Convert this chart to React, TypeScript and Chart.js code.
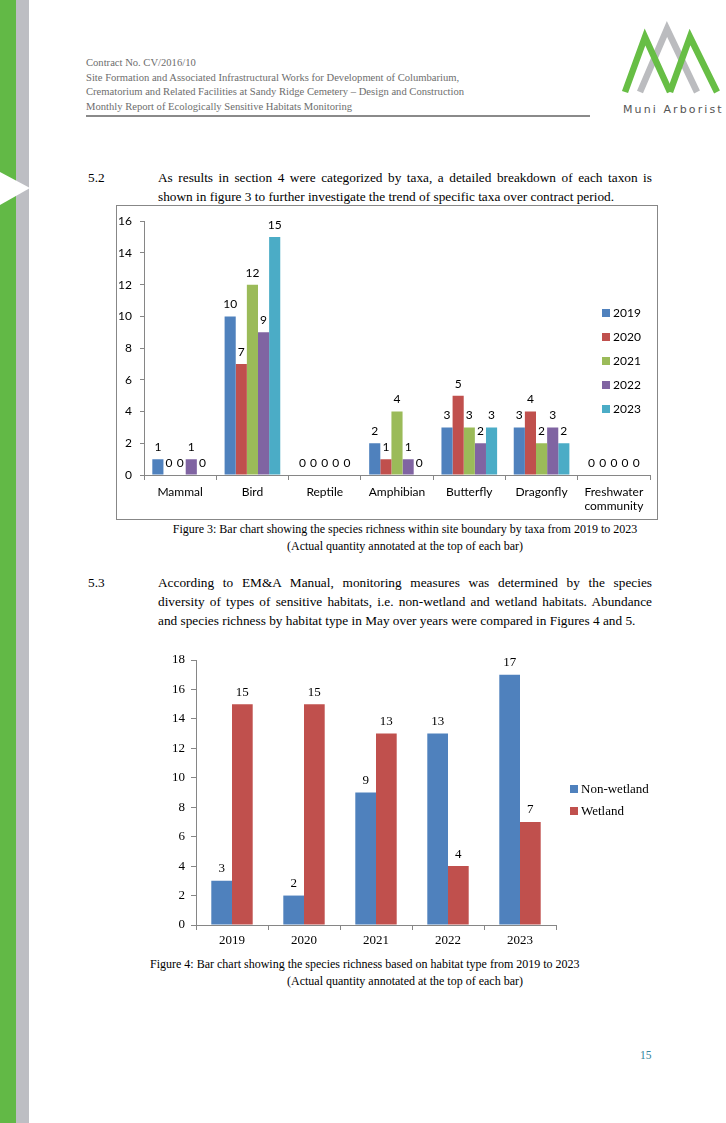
import React, { useEffect, useRef } from 'react';
import { Chart, registerables } from 'chart.js';

Chart.register(...registerables);

// ---------- Figure 3 data ----------
const taxaLabels: (string | string[])[] = ['Mammal', 'Bird', 'Reptile', 'Amphibian', 'Butterfly', 'Dragonfly', ['Freshwater', 'community']];
const yearLabels = ['2019', '2020', '2021', '2022', '2023'];
const yearColors = ['#4F81BD', '#C0504D', '#9BBB59', '#8064A2', '#4BACC6'];
const taxa2019 = [1, 10, 0, 2, 3, 3, 0];
const taxa2020 = [0, 7, 0, 1, 5, 4, 0];
const taxa2021 = [0, 12, 0, 4, 3, 2, 0];
const taxa2022 = [1, 9, 0, 1, 2, 3, 0];
const taxa2023 = [0, 15, 0, 0, 3, 2, 0];
const taxaYMax = 16;
const taxaYStep = 2;

// ---------- Figure 4 data ----------
const habitatYears = ['2019', '2020', '2021', '2022', '2023'];
const habitatLabels = ['Non-wetland', 'Wetland'];
const habitatColors = ['#4F81BD', '#C0504D'];
const nonWetland = [3, 2, 9, 13, 17];
const wetland = [15, 15, 13, 4, 7];
const habitatYMax = 18;
const habitatYStep = 2;

const AXIS = '#868686';

function valueLabelPlugin(font: string, offset: number) {
  return {
    id: 'valueLabels',
    afterDatasetsDraw(chart: any) {
      const ctx = chart.ctx;
      ctx.save();
      ctx.font = font;
      ctx.fillStyle = '#000';
      ctx.textAlign = 'center';
      ctx.textBaseline = 'middle';
      chart.data.datasets.forEach((ds: any, i: number) => {
        const meta = chart.getDatasetMeta(i);
        meta.data.forEach((el: any, j: number) => {
          ctx.fillText(String(ds.data[j]), el.x, el.y - offset);
        });
      });
      ctx.restore();
    },
  };
}

function sideLegendPlugin(x: number, y0: number, gap: number, box: number, font: string) {
  return {
    id: 'sideLegend',
    afterDraw(chart: any) {
      const ctx = chart.ctx;
      ctx.save();
      ctx.font = font;
      ctx.textAlign = 'left';
      ctx.textBaseline = 'middle';
      chart.data.datasets.forEach((ds: any, i: number) => {
        const y = y0 + i * gap;
        ctx.fillStyle = ds.backgroundColor;
        ctx.fillRect(x, y - box / 2, box, box);
        ctx.fillStyle = '#000';
        ctx.fillText(ds.label, x + box + 3, y + 0.5);
      });
      ctx.restore();
    },
  };
}

function TaxaChart() {
  const ref = useRef<HTMLCanvasElement>(null);
  useEffect(() => {
    const series = [taxa2019, taxa2020, taxa2021, taxa2022, taxa2023];
    const font = { family: 'Lato', size: 12 };
    const chart = new Chart(ref.current!, {
      type: 'bar',
      data: {
        labels: taxaLabels as any,
        datasets: series.map((d, i) => ({
          label: yearLabels[i],
          data: d,
          backgroundColor: yearColors[i],
          borderWidth: 0,
          barPercentage: 1,
          categoryPercentage: 0.77,
        })),
      },
      options: {
        responsive: false,
        animation: false,
        layout: { padding: { left: 0, right: 7, top: 13, bottom: 0 } },
        plugins: { legend: { display: false }, tooltip: { enabled: false } },
        scales: {
          x: {
            grid: { display: true, drawOnChartArea: false, drawTicks: true, tickLength: 5, color: AXIS, offset: true },
            border: { display: true, color: AXIS },
            ticks: { font, color: '#000', padding: 5, maxRotation: 0, autoSkip: false },
            afterFit: (s: any) => { s.height = 44; },
          },
          y: {
            min: 0,
            max: taxaYMax,
            grid: { display: true, drawOnChartArea: false, drawTicks: true, tickLength: 4, color: AXIS },
            border: { display: true, color: AXIS },
            ticks: { stepSize: taxaYStep, font, color: '#000', padding: 8 },
            afterFit: (s: any) => { s.width = 27; },
          },
        },
      },
      plugins: [valueLabelPlugin('12px Lato', 12), sideLegendPlugin(485, 107, 24, 8, '12px Lato')],
    });
    return () => chart.destroy();
  }, []);
  return <canvas ref={ref} width={540} height={313} style={{ display: 'block' }} />;
}

function HabitatChart() {
  const ref = useRef<HTMLCanvasElement>(null);
  useEffect(() => {
    const series = [nonWetland, wetland];
    const font = { family: 'Liberation Serif', size: 13 };
    const chart = new Chart(ref.current!, {
      type: 'bar',
      data: {
        labels: habitatYears,
        datasets: series.map((d, i) => ({
          label: habitatLabels[i],
          data: d,
          backgroundColor: habitatColors[i],
          borderWidth: 0,
          barPercentage: 1,
          categoryPercentage: 0.575,
        })),
      },
      options: {
        responsive: false,
        animation: false,
        layout: { padding: { left: 0, right: 114, top: 15, bottom: 0 } },
        plugins: { legend: { display: false }, tooltip: { enabled: false } },
        scales: {
          x: {
            grid: { display: true, drawOnChartArea: false, drawTicks: true, tickLength: 5, color: AXIS, offset: true },
            border: { display: true, color: AXIS },
            ticks: { font, color: '#000', padding: 3, maxRotation: 0 },
            afterFit: (s: any) => { s.height = 30; },
          },
          y: {
            min: 0,
            max: habitatYMax,
            grid: { display: true, drawOnChartArea: false, drawTicks: true, tickLength: 5, color: AXIS },
            border: { display: true, color: AXIS },
            ticks: { stepSize: habitatYStep, font, color: '#000', padding: 6 },
            afterFit: (s: any) => { s.width = 46; },
          },
        },
      },
      plugins: [valueLabelPlugin('13px "Liberation Serif"', 12), sideLegendPlugin(420, 144, 22, 8, '13px "Liberation Serif"')],
    });
    return () => chart.destroy();
  }, []);
  return <canvas ref={ref} width={520} height={310} style={{ display: 'block' }} />;
}

const abs = (left: number, top: number, extra: React.CSSProperties = {}): React.CSSProperties => ({
  position: 'absolute', left, top, whiteSpace: 'nowrap', ...extra,
});

export default function App() {
  const body: React.CSSProperties = { fontSize: 13.3, lineHeight: '19px', color: '#000' };
  const just: React.CSSProperties = { width: 494, textAlign: 'justify', textAlignLast: 'justify' as any, whiteSpace: 'normal' };
  const header: React.CSSProperties = { fontSize: 10.6, lineHeight: '14.6px', color: '#6d6d6d' };
  const cap: React.CSSProperties = { fontSize: 12, lineHeight: '17px', color: '#000' };
  return (
    <div style={{ position: 'absolute', left: 0, top: 0, width: 726, height: 1123, background: '#fff', overflow: 'hidden', fontFamily: '"Liberation Serif", "Times New Roman", serif' }}>
      {/* side bars */}
      <div style={{ position: 'absolute', left: 0, top: 0, width: 16, height: 1123, background: '#62B946' }} />
      <div style={{ position: 'absolute', left: 16, top: 0, width: 13, height: 1123, background: '#BDBEC3' }} />
      <svg style={{ position: 'absolute', left: 0, top: 0 }} width={40} height={230}>
        <polygon points="0,172 30,188 0,205" fill="#fff" />
      </svg>

      {/* header */}
      <div style={abs(86, 56, header)}>
        <div>Contract No. CV/2016/10</div>
        <div>Site Formation and Associated Infrastructural Works for Development of Columbarium,</div>
        <div>Crematorium and Related Facilities at Sandy Ridge Cemetery – Design and Construction</div>
        <div>Monthly Report of Ecologically Sensitive Habitats Monitoring</div>
      </div>
      <div style={{ position: 'absolute', left: 86, top: 115, width: 504, height: 2, background: '#8a8a8a' }} />

      {/* logo */}
      <svg style={{ position: 'absolute', left: 615, top: 20 }} width={110} height={80}>
        <polyline points="25,72 52,9 82,72" fill="none" stroke="#BBBCBF" strokeWidth={6.5} strokeLinejoin="miter" />
        <polyline points="10,72 30,17 55,72" fill="none" stroke="#67BE45" strokeWidth={6.5} strokeLinejoin="miter" />
        <polyline points="55,72 75,17 102,72" fill="none" stroke="#67BE45" strokeWidth={6.5} strokeLinejoin="miter" />
      </svg>
      <div style={abs(623, 102, { fontFamily: '"DejaVu Sans", sans-serif', fontSize: 11, letterSpacing: 2.1, color: '#555', lineHeight: '16px' })}>Muni Arborist</div>

      {/* 5.2 */}
      <div style={abs(88, 167.5, body)}>5.2</div>
      <div style={abs(158, 167.5, body)}>
        <div style={just}>As results in section 4 were categorized by taxa, a detailed breakdown of each taxon is</div>
        <div>shown in figure 3 to further investigate the trend of specific taxa over contract period.</div>
      </div>

      {/* Figure 3 */}
      <div style={{ position: 'absolute', left: 116, top: 205, width: 542, height: 315, border: '1px solid #878787', boxSizing: 'border-box' }}>
        <TaxaChart />
      </div>
      <div style={{ position: 'absolute', left: 105, top: 520.5, width: 600, textAlign: 'center', ...cap }}>
        <div>Figure 3: Bar chart showing the species richness within site boundary by taxa from 2019 to 2023</div>
        <div>(Actual quantity annotated at the top of each bar)</div>
      </div>

      {/* 5.3 */}
      <div style={abs(88, 572.5, body)}>5.3</div>
      <div style={abs(158, 572.5, body)}>
        <div style={just}>According to EM&amp;A Manual, monitoring measures was determined by the species</div>
        <div style={just}>diversity of types of sensitive habitats, i.e. non-wetland and wetland habitats. Abundance</div>
        <div>and species richness by habitat type in May over years were compared in Figures 4 and 5.</div>
      </div>

      {/* Figure 4 */}
      <div style={{ position: 'absolute', left: 150, top: 645, width: 520, height: 310 }}>
        <HabitatChart />
      </div>
      <div style={abs(150, 955.5, cap)}>Figure 4: Bar chart showing the species richness based on habitat type from 2019 to 2023</div>
      <div style={{ position: 'absolute', left: 105, top: 972.5, width: 600, textAlign: 'center', ...cap }}>(Actual quantity annotated at the top of each bar)</div>

      {/* page number */}
      <div style={abs(640, 1047, { fontSize: 11.5, lineHeight: '16px', color: '#31849B' })}>15</div>
    </div>
  );
}
